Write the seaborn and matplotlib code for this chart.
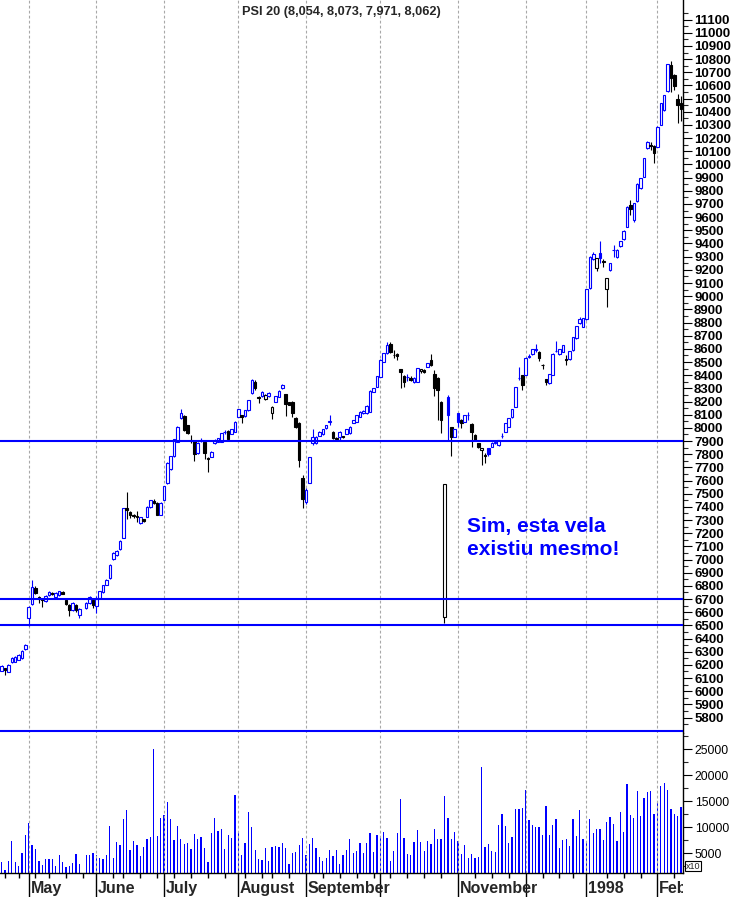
import matplotlib
matplotlib.use("Agg")
import matplotlib.pyplot as plt
from matplotlib.patches import Rectangle
import numpy as np
import pandas as pd
import seaborn as sns

# ------------------ DATA (one entry per trading-day slot, slot 24 = holiday) ------------------
opens = [6155, 6175, 6148, 6222, 6225, 6240, 6250, 6320, 6555, 6660,
         6785, 6718, 6700, 6686, 6730, 6745, 6715, 6730, 6753, 6693,
         6655, 6617, 6655, 6580, None, 6632, 6670, 6693, 6650, 6710,
         6750, 6810, 6860, 7004, 7034, 7080, 7163, 7394, 7363, 7340,
         7330, 7280, 7306, 7325, 7399, 7447, 7431, 7338, 7452, 7579,
         7685, 7786, 7895, 8072, 8092, 8021, 7900, 7900, 7807, 7905,
         7895, 7770, 7781, 7885, 7895, 7895, 7965, 7978, 7953, 7971,
         8085, 8097, 8090, 8135, 8262, 8350, 8236, 8242, 8216, 8240,
         8110, 8198, 8236, 8302, 8257, 8198, 8198, 8072, 8040, 7617,
         7440, 7583, 7882, 7885, 7938, 7950, 7996, 8045, 7971, 7925,
         7933, 7935, 7955, 7960, 8039, 8047, 8085, 8110, 8110, 8122,
         8274, 8312, 8388, 8502, 8566, 8637, 8555, 8560, 8444, 8393,
         8385, 8375, 8350, 8350, 8430, 8440, 8464, 8515, 8410, 8380,
         8198, 6566, 8236, 8004, 7933, 8110, 8059, 8047, 8095, 8029,
         7946, 7882, 7835, 7795, 7845, 7857, 7885, 7870, 7935, 7971,
         8009, 8080, 8160, 8376, 8401, 8401, 8540, 8558, 8590, 8578,
         8480, 8368, 8338, 8401, 8580, 8561, 8578, 8520, 8520, 8591,
         8680, 8794, 8768, 8824, 9059, 9280, 9211, 9325, 9265, 9052,
         9198, 9350, 9300, 9381, 9432, 9527, 9692, 9578, 9720, 9818,
         9906, 10122, 10145, 10140, 10135, 10301, 10413, 10555, 10755, 10679,
         10496, 10470]

highs = [6200, 6180, 6205, 6258, 6265, 6280, 6310, 6362, 6650, 6845,
         6800, 6725, 6710, 6728, 6758, 6750, 6750, 6765, 6758, 6700,
         6660, 6675, 6660, 6630, None, 6680, 6725, 6700, 6720, 6765,
         6810, 6850, 6970, 7055, 7072, 7150, 7395, 7513, 7370, 7345,
         7370, 7325, 7310, 7405, 7455, 7460, 7435, 7435, 7560, 7740,
         7790, 7915, 8012, 8141, 8095, 8025, 7946, 7905, 7890, 7925,
         7900, 7775, 7822, 7915, 7925, 7962, 7985, 7982, 7992, 8050,
         8145, 8100, 8138, 8215, 8370, 8360, 8240, 8278, 8255, 8270,
         8165, 8245, 8285, 8330, 8260, 8200, 8205, 8080, 8045, 7640,
         7540, 7780, 7995, 7936, 7975, 7995, 8025, 8097, 7975, 7930,
         7980, 7940, 7995, 8012, 8062, 8100, 8125, 8138, 8170, 8284,
         8305, 8397, 8520, 8570, 8650, 8650, 8590, 8570, 8450, 8400,
         8410, 8395, 8385, 8455, 8450, 8445, 8495, 8560, 8440, 8390,
         8205, 7574, 8249, 8010, 7995, 8115, 8065, 8100, 8122, 8035,
         7950, 7885, 7850, 7806, 7850, 7890, 7895, 7910, 7960, 8037,
         8075, 8146, 8312, 8464, 8405, 8535, 8560, 8600, 8637, 8582,
         8485, 8372, 8412, 8565, 8661, 8602, 8632, 8550, 8586, 8692,
         8777, 8840, 8835, 9055, 9303, 9335, 9290, 9416, 9280, 9140,
         9252, 9390, 9355, 9422, 9500, 9682, 9730, 9707, 9860, 9897,
         10050, 10180, 10170, 10145, 10290, 10470, 10530, 10765, 10786, 10684,
         10534, 10520]

lows = [6150, 6125, 6145, 6218, 6220, 6235, 6245, 6315, 6498, 6655,
        6735, 6670, 6640, 6680, 6725, 6730, 6710, 6725, 6735, 6655,
        6571, 6612, 6600, 6556, None, 6625, 6665, 6632, 6594, 6705,
        6745, 6805, 6850, 6995, 7030, 7075, 7160, 7308, 7315, 7315,
        7287, 7270, 7285, 7320, 7395, 7425, 7335, 7335, 7450, 7575,
        7680, 7780, 7890, 8068, 7980, 7955, 7885, 7750, 7805, 7890,
        7767, 7667, 7778, 7880, 7890, 7890, 7955, 7905, 7950, 7968,
        8080, 8037, 8085, 8130, 8258, 8290, 8190, 8238, 8212, 8236,
        8070, 8195, 8232, 8298, 8089, 8170, 8085, 8000, 7705, 7390,
        7420, 7578, 7870, 7878, 7935, 7945, 7992, 8020, 7915, 7900,
        7900, 7925, 7950, 7955, 8035, 8043, 8080, 8105, 8105, 8118,
        8270, 8308, 8385, 8498, 8562, 8570, 8530, 8515, 8300, 8312,
        8355, 8355, 8340, 8345, 8420, 8420, 8460, 8470, 8240, 8060,
        7958, 6521, 7908, 7786, 7930, 8009, 8000, 8043, 8059, 7857,
        7905, 7850, 7718, 7730, 7790, 7855, 7875, 7865, 7920, 7968,
        8005, 8076, 8155, 8363, 8290, 8398, 8530, 8554, 8575, 8510,
        8446, 8325, 8334, 8398, 8575, 8557, 8574, 8480, 8515, 8587,
        8676, 8790, 8764, 8819, 9055, 9276, 9188, 9249, 9220, 8916,
        9194, 9300, 9290, 9377, 9428, 9523, 9616, 9560, 9716, 9814,
        9902, 10118, 10110, 10008, 10131, 10297, 10409, 10551, 10550, 10565,
        10314, 10330]

closes = [6192, 6160, 6200, 6253, 6260, 6272, 6305, 6355, 6642, 6790,
          6745, 6700, 6690, 6723, 6753, 6735, 6746, 6761, 6738, 6662,
          6617, 6670, 6617, 6625, None, 6670, 6716, 6655, 6700, 6760,
          6805, 6845, 6960, 7050, 7067, 7143, 7391, 7376, 7340, 7328,
          7322, 7323, 7290, 7401, 7452, 7429, 7338, 7431, 7558, 7735,
          7786, 7913, 8009, 8110, 7984, 7958, 7910, 7801, 7887, 7910,
          7811, 7763, 7819, 7900, 7920, 7960, 7970, 7913, 7989, 8047,
          8141, 8085, 8135, 8211, 8363, 8300, 8230, 8274, 8250, 8267,
          8160, 8242, 8281, 8325, 8181, 8173, 8110, 8009, 7756, 7457,
          7528, 7776, 7930, 7933, 7970, 7990, 8021, 8050, 7920, 7918,
          7971, 7930, 7990, 8009, 8059, 8097, 8122, 8130, 8166, 8280,
          8300, 8393, 8515, 8566, 8629, 8578, 8550, 8545, 8426, 8350,
          8383, 8365, 8378, 8452, 8445, 8425, 8490, 8477, 8300, 8290,
          8059, 7570, 8097, 7933, 7989, 8047, 8034, 8097, 8100, 7971,
          7908, 7852, 7848, 7790, 7800, 7887, 7890, 7908, 7940, 8034,
          8072, 8143, 8308, 8380, 8325, 8532, 8545, 8596, 8600, 8528,
          8477, 8350, 8409, 8561, 8585, 8599, 8629, 8518, 8583, 8688,
          8773, 8824, 8832, 9052, 9300, 9320, 9287, 9290, 9261, 9135,
          9249, 9348, 9350, 9419, 9497, 9679, 9659, 9704, 9850, 9894,
          10046, 10172, 10142, 10084, 10287, 10466, 10527, 10762, 10653, 10596,
          10451, 10420]

volumes = [3270, 1730, 3460, 7310, 3270, 2500, 5000, 8460, 10770, 6540,
           5770, 3460, 2690, 3840, 3840, 3840, 2500, 4610, 3270, 2310,
           2500, 3080, 4810, 2880, None, 4610, 4610, 5000, 4610, 4040,
           3840, 4610, 10190, 4040, 7115, 6540, 11540, 13270, 5580, 7310,
           6540, 4420, 6150, 7690, 8080, 25000, 8270, 11730, 12310, 14800,
           11540, 7500, 10190, 7690, 6730, 6920, 5770, 8650, 7690, 8080,
           5960, 3270, 8840, 11730, 9230, 9620, 5770, 8460, 7880, 16150,
           8840, 4610, 6920, 12880, 9990, 5580, 3840, 3650, 5960, 3460,
           6150, 6340, 6150, 6920, 5960, 2880, 5000, 5190, 6540, 7880,
           4610, 6730, 7880, 5960, 4230, 3460, 4040, 5580, 4420, 5580,
           2880, 4610, 5580, 7690, 5000, 5380, 6920, 5000, 6920, 8840,
           5190, 8460, 8080, 9030, 7880, 3460, 5380, 8840, 15380, 7880,
           4810, 4610, 7110, 9420, 7110, 5380, 7310, 6730, 9620, 7690,
           7690, 15960, 11730, 7690, 9030, 7310, 4810, 6540, 4040, 4810,
           4040, 4230, 21540, 6150, 6730, 5380, 5190, 10380, 12500, 10190,
           6920, 8080, 13460, 13460, 13650, 17110, 11340, 10380, 9990, 9990,
           8460, 14040, 8460, 10380, 11540, 5960, 7500, 7690, 6340, 11540,
           8270, 13270, 7690, 7110, 11540, 8840, 9620, 9620, 7500, 10960,
           11920, 10570, 7310, 12880, 9030, 18270, 12310, 11730, 16920, 12110,
           15580, 16730, 16920, 12500, 14990, 17880, 18460, 17110, 13460, 12500,
           12110, 13840]

month_slots = [8, 28, 48, 70, 90, 112, 135, 155, 173, 194]
month_labels = ["May", "June", "July", "August", "September", "", "November", "", "1998", "Feb"]
week_slots = [1, 5, 10, 14, 19, 24, 33, 36, 41, 46, 51, 56, 61, 66, 72, 77, 80, 85,
              95, 100, 105, 110, 115, 120, 125, 130, 140, 145, 150, 160, 165, 169,
              179, 184, 189, 199]
level_lines = [7900, 6700, 6500, 5700]
vol_ticks = [5000, 10000, 15000, 20000, 25000]

title = "PSI 20 (8,054, 8,073, 7,971, 8,062)"
note = "Sim, esta vela\nexistiu mesmo!"

# ------------------ STYLE ------------------
sns.set_style("white")
plt.rcParams['font.family'] = ['Liberation Sans', 'DejaVu Sans']

BLUE = "#0000ff"
GRID = "#a8a8a8"

df = pd.DataFrame({'open': opens, 'high': highs, 'low': lows,
                   'close': closes, 'volume': volumes}, dtype=float)
df['slot'] = np.arange(len(df))
df['prev'] = df['close'].ffill().shift(1)

W, H = 733, 897
fig = plt.figure(figsize=(W / 100, H / 100), dpi=100)
ax = fig.add_axes([0, 1 - 733 / H, 683 / W, 733 / H])
axv = fig.add_axes([0, 24 / H, 683 / W, 140 / H])

# ------------------ CANDLES ------------------
# blue = close up vs previous close, black = down; hollow = close above open
for r in df.dropna(subset=['close']).itertuples():
    col = BLUE if (np.isnan(r.prev) or r.close >= r.prev) else 'black'
    face = 'white' if r.close > r.open else col
    ax.vlines(r.slot, r.low, r.high, color=col, lw=0.8, zorder=3)
    lo = min(r.open, r.close)
    hgt = max(abs(r.close - r.open), 1)
    ax.add_patch(Rectangle((r.slot - 0.38, lo), 0.76, hgt, facecolor=face,
                           edgecolor=col, lw=0.8, zorder=4))

for lvl in level_lines:
    ax.axhline(lvl, color=BLUE, lw=1.5, zorder=5)

# ------------------ VOLUME ------------------
vol = df.dropna(subset=['volume'])
sns.barplot(x=vol['slot'], y=vol['volume'], native_scale=True, color=BLUE,
            saturation=1, width=0.38, errorbar=None, linewidth=0, ax=axv)
axv.set_xlabel("")
axv.set_ylabel("")

# ------------------ AXES ------------------
for a in (ax, axv):
    a.set_xlim(-0.5, 201.56)
    for s in month_slots:
        a.axvline(s, color=GRID, lw=0.8, ls=(0, (2.5, 2)), zorder=1)
    for side in ('left', 'top'):
        a.spines[side].set_visible(False)
    a.spines['right'].set_color('black')
    a.spines['right'].set_linewidth(1)
    a.yaxis.tick_right()

ax.spines['bottom'].set_visible(False)
ax.set_ylim(5683, 11249)
ax.set_yticks(range(5800, 11101, 100))
ax.set_yticks(range(5750, 11201, 100), minor=True)
ax.tick_params(axis='y', which='major', direction='out', length=6.5, width=0.8,
               pad=1.5, labelsize=9.5, colors='black', right=True)
ax.tick_params(axis='y', which='minor', direction='out', length=3.5, width=0.8, right=True)
for lbl in ax.get_yticklabels():
    lbl.set_fontweight('bold')
ax.tick_params(axis='x', bottom=False, labelbottom=False)

axv.set_ylim(1154, 28077)
axv.set_yticks(vol_ticks)
axv.set_yticklabels([str(v) for v in vol_ticks])
axv.set_yticks([2500, 7500, 12500, 17500, 22500, 27500], minor=True)
axv.tick_params(axis='y', which='major', direction='out', length=6.5, width=0.8,
                pad=2, labelsize=8.8, colors='black', right=True)
axv.tick_params(axis='y', which='minor', direction='out', length=3.5, width=0.8, right=True)
axv.spines['bottom'].set_color('black')
axv.spines['bottom'].set_linewidth(1)

axv.set_xticks(month_slots)
axv.set_xticklabels([])
axv.set_xticks(week_slots, minor=True)
axv.tick_params(axis='x', which='major', direction='out', length=17.5, width=1,
                colors='black', bottom=True)
axv.tick_params(axis='x', which='minor', direction='out', length=3.5, width=1,
                colors='black', bottom=True)

# month names are cut at the right edge of the plot area
clip = Rectangle((0, 0), 683 / W, 1, transform=fig.transFigure, visible=False)
for s, lab in zip(month_slots, month_labels):
    t = axv.text(s + 0.5, -0.14, lab, transform=axv.get_xaxis_transform(),
                 ha='left', va='baseline', fontsize=11.5, fontweight='bold',
                 clip_on=True)
    t.set_clip_path(clip)

# ------------------ TEXT ------------------
fig.text(341.5 / W, 1 - 12 / H, title, ha='center', va='center',
         fontsize=9.2, fontweight='bold')
ax.text(137.7, 7322, note, color=BLUE, fontsize=15, fontweight='bold',
        ha='left', va='top', linespacing=1.25, zorder=6)
fig.text(686 / W, 1 - 866 / H, "x10", fontsize=6.5, ha='left', va='center',
         bbox=dict(boxstyle='square,pad=0.1', facecolor='white', edgecolor='black', lw=0.8))

plt.savefig("out.png", dpi=100)
